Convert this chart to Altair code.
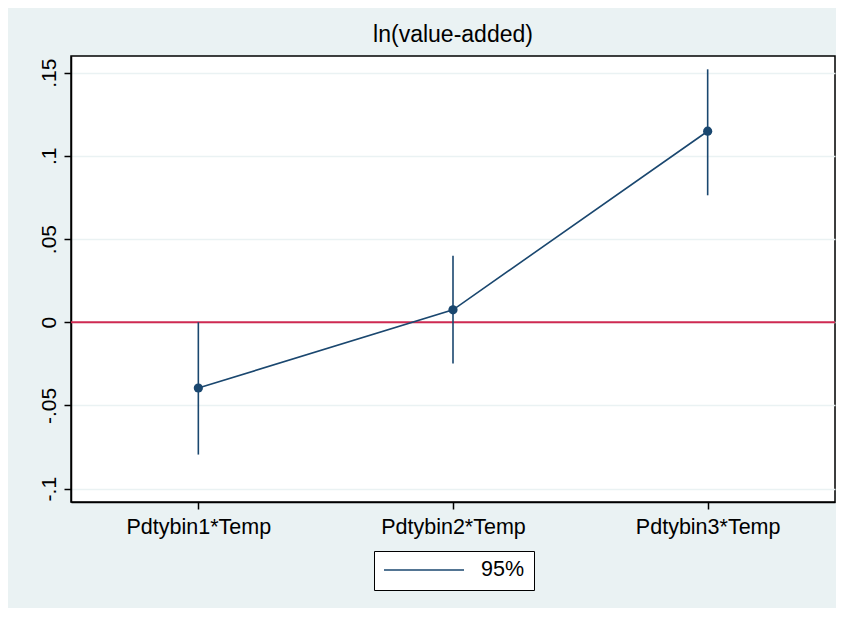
import altair as alt
import pandas as pd

categories = ["Pdtybin1*Temp", "Pdtybin2*Temp", "Pdtybin3*Temp"]
positions = [1, 2, 3]
coef = [-0.0395, 0.0075, 0.1148]
ci_low = [-0.0795, -0.0248, 0.0763]
ci_high = [0.0000, 0.0400, 0.1520]
ci_label = ["95%", "95%", "95%"]
y_tick_values = [-0.1, -0.05, 0.0, 0.05, 0.1, 0.15]
y_tick_labels = ["-.1", "-.05", "0", ".05", ".1", ".15"]
ref_line = [0.0]
title_text = "ln(value-added)"

df = pd.DataFrame({"pos": positions, "cat": categories, "coef": coef,
                   "lo": ci_low, "hi": ci_high, "ci": ci_label})
ref_df = pd.DataFrame({"y": ref_line})

NAVY = "#1a476f"
FONT = "Liberation Sans"

x_label_expr = " : ".join(
    [f"datum.value == {p} ? '{c}'" for p, c in zip(positions, categories)]) + " : ''"
y_label_expr = " : ".join(
    [f"abs(datum.value - ({v})) < 1e-9 ? '{l}'" for v, l in zip(y_tick_values, y_tick_labels)]) + " : ''"

x_enc = alt.X("pos:Q", scale=alt.Scale(domain=[0.5, 3.5], nice=False, zero=False),
              axis=alt.Axis(values=positions, labelExpr=x_label_expr, title=None,
                            grid=False, tickSize=7, labelPadding=7, labelFontSize=21.5,
                            labelFont=FONT, labelColor="#000000", domainColor="#000000",
                            tickColor="#000000", domainWidth=1.5, tickWidth=1.5))
y_scale = alt.Scale(domain=[-0.108, 0.160], nice=False, zero=False)
y_axis = alt.Axis(values=y_tick_values, labelExpr=y_label_expr, title=None,
                  grid=True, gridColor="#eaf2f3", gridWidth=1.5, tickSize=7,
                  labelAngle=270, labelAlign="center", labelBaseline="bottom",
                  labelPadding=5, labelFontSize=21, labelFont=FONT, labelColor="#000000",
                  domainColor="#000000", tickColor="#000000", domainWidth=1.5, tickWidth=1.5)

base = alt.Chart(df)

ref = alt.Chart(ref_df).mark_rule(color="#cf2a52", strokeWidth=1.8).encode(
    y=alt.Y("y:Q", scale=y_scale, axis=y_axis))

rules = base.mark_rule(strokeWidth=1.6).encode(
    x=x_enc,
    y=alt.Y("lo:Q", scale=y_scale, axis=y_axis),
    y2="hi:Q",
    color=alt.Color("ci:N", scale=alt.Scale(range=[NAVY]),
                    legend=alt.Legend(title=None, orient="none", legendX=303, legendY=495,
                                      symbolType="stroke", symbolSize=6400, clipHeight=20,
                                      symbolStrokeWidth=1.6, labelFontSize=21.5,
                                      labelFont=FONT, labelColor="#000000",
                                      fillColor="#ffffff", strokeColor="#000000",
                                      padding=9, labelOffset=16)))

line = base.mark_line(color=NAVY, strokeWidth=1.6).encode(
    x=x_enc, y=alt.Y("coef:Q", scale=y_scale, axis=y_axis))

pts = base.mark_circle(color=NAVY, size=85, opacity=1).encode(
    x=x_enc, y=alt.Y("coef:Q", scale=y_scale, axis=y_axis))

chart = alt.layer(ref, rules, line, pts).properties(
    width=764, height=446,
    title=alt.TitleParams(title_text, fontSize=23, font=FONT, fontWeight="normal",
                          color="#000000", anchor="middle", offset=9),
    autosize=alt.AutoSizeParams(type="none"),
    padding={"left": 63, "top": 48, "right": 1, "bottom": 106},
    background="#eaf2f3",
).configure_view(fill="#ffffff", stroke="#000000", strokeWidth=1.5)

chart.save("out.html", embed_options={"renderer": "svg", "actions": False})
